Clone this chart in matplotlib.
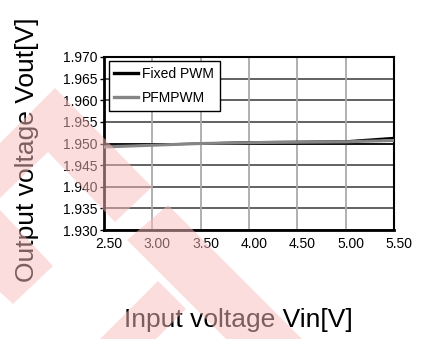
import matplotlib
matplotlib.use("Agg")
import matplotlib.pyplot as plt
import matplotlib.transforms as mtransforms
from matplotlib.patches import Polygon

# --- Data ---
vin = [2.5, 3.0, 3.5, 4.0, 4.5, 5.0, 5.5]
vout_fixed_pwm = [1.9493, 1.9497, 1.9500, 1.9503, 1.9504, 1.9505, 1.9513]
vout_pfm_pwm = [1.9492, 1.9496, 1.9500, 1.9502, 1.9503, 1.9504, 1.9507]

x_ticks = [2.5, 3.0, 3.5, 4.0, 4.5, 5.0, 5.5]
y_ticks = [1.930, 1.935, 1.940, 1.945, 1.950, 1.955, 1.960, 1.965, 1.970]

# watermark shapes, in figure pixels (x from left, y from top)
watermark_shapes = [
    [(0, 143), (55, 88), (152, 187), (115, 222), (48, 152), (0, 198)],
    [(0, 210), (53, 266), (13, 304), (0, 292)],
    [(127, 240), (168, 205), (302, 339), (226, 339)],
    [(100, 339), (158, 281), (186, 309), (156, 339)],
]

W, H = 421, 339
plt.rcParams['font.family'] = ['Liberation Sans', 'DejaVu Sans']

fig = plt.figure(figsize=(W / 100, H / 100), dpi=100)
ax = fig.add_axes([104 / W, 1 - 230 / H, 290 / W, 173 / H])

# grid: dark horizontal, light vertical, darker line at 1.950
for y in y_ticks:
    ax.axhline(y, color='#555555', lw=1.3, zorder=1)
for x in x_ticks:
    ax.axvline(x, color='#aaaaaa', lw=1.3, zorder=1)
ax.axhline(1.950, color='#111111', lw=1.3, zorder=1)

ax.plot(vin, vout_fixed_pwm, color='black', lw=1.6, label='Fixed PWM', zorder=3)
ax.plot(vin, vout_pfm_pwm, color='#858585', lw=2.2, label='PFMPWM', zorder=4)

ax.set_xlim(2.5, 5.5)
ax.set_ylim(1.930, 1.970)
ax.set_xticks(x_ticks)
ax.set_xticklabels(['%.2f' % v for v in x_ticks])
ax.set_yticks(y_ticks)
ax.set_yticklabels(['%.3f' % v for v in y_ticks])
ax.tick_params(axis='x', length=0, pad=5, labelsize=10)
ax.tick_params(axis='y', length=3, width=1, pad=2, labelsize=10)

offset = mtransforms.ScaledTranslation(5 / 100, 0, fig.dpi_scale_trans)
for lab in ax.get_xticklabels():
    lab.set_transform(lab.get_transform() + offset)

for side in ['left', 'bottom']:
    ax.spines[side].set_linewidth(2.0)
for side in ['top', 'right']:
    ax.spines[side].set_linewidth(1.5)

leg = ax.legend(loc='upper left', bbox_to_anchor=(0.017, 0.977), fontsize=10,
                frameon=True, fancybox=False, handlelength=1.7, handletextpad=0.3,
                borderpad=0.4, labelspacing=0.75, borderaxespad=0)
leg.get_frame().set_edgecolor('black')
leg.get_frame().set_linewidth(1.0)
leg.get_frame().set_alpha(1)
for line in leg.get_lines():
    line.set_linewidth(2.4)

fig.text(27 / W, 1 - 150 / H, 'Output voltage Vout[V]', rotation=90,
         ha='center', va='center', fontsize=19)
fig.text(238 / W, 1 - 320 / H, 'Input voltage Vin[V]',
         ha='center', va='center', fontsize=19)

# pale red watermark overlaid on everything
for shape in watermark_shapes:
    pts = [(x / W, 1 - y / H) for x, y in shape]
    fig.patches.append(Polygon(pts, closed=True, transform=fig.transFigure,
                               facecolor='#f9bcbc', edgecolor='none',
                               alpha=0.5, zorder=10))

fig.savefig('out.png', dpi=100)
